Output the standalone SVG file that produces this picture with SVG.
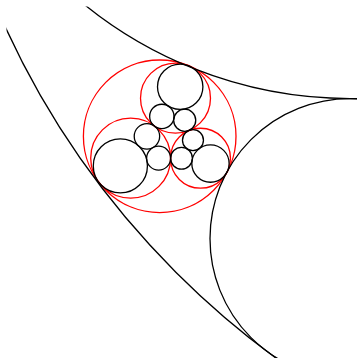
<svg xmlns="http://www.w3.org/2000/svg" width="357" height="358" viewBox="0 0 357 358">
<defs>
<clipPath id="clip"><rect x="6.5" y="6.5" width="360" height="360"/></clipPath>
<style>
circle{fill:none;stroke-width:1.3}
.k{stroke:#000}
.r{stroke:#f00}
</style>
</defs>
<rect width="357" height="358" fill="#fff"/>
<g id="red-circles">
<circle id="O" class="r" cx="159.7" cy="136.3" r="76.3"/>
<circle id="R1" class="r" cx="175.5" cy="98.13" r="34.99"/>
<circle id="R2" class="r" cx="130.65" cy="158.15" r="39.95"/>
<circle id="R3" class="r" cx="200.5" cy="158.23" r="29.98"/>
</g>
<g id="outer-arcs" clip-path="url(#clip)">
<circle id="A" class="k" cx="350" cy="-323.4" r="422"/>
<circle id="B" class="k" cx="350" cy="238.6" r="140"/>
<circle id="C" class="k" cx="775" cy="-326.5" r="847"/>
</g>
<g id="inner-circles">
<circle id="K1" class="k" cx="180.2" cy="86.77" r="22.7"/>
<circle id="s12" class="k" cx="161.84" cy="116.41" r="12.17"/>
<circle id="s13" class="k" cx="184.7" cy="120.24" r="11.05"/>
<circle id="K2" class="k" cx="120.35" cy="165.9" r="27.06"/>
<circle id="s21" class="k" cx="146.94" cy="136.35" r="12.72"/>
<circle id="s23" class="k" cx="158.61" cy="158.18" r="11.99"/>
<circle id="K3" class="k" cx="210.47" cy="163.59" r="18.66"/>
<circle id="s31" class="k" cx="192.97" cy="140.13" r="10.49"/>
<circle id="s32" class="k" cx="181.5" cy="158.21" r="10.9"/>
</g>
</svg>
